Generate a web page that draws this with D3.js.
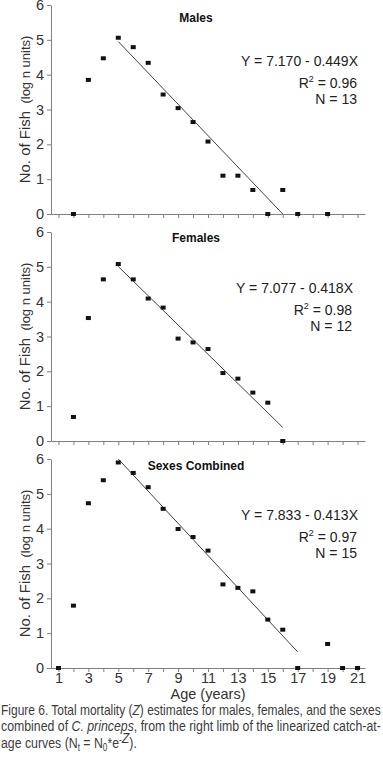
<!DOCTYPE html>
<html>
<head>
<meta charset="utf-8">
<script src="https://cdn.jsdelivr.net/npm/d3@7"></script>
<style>
  body { margin: 0; background: #fff; }
  svg { display: block; font-family: "Liberation Sans", Arial, sans-serif; }
  .axis path, .axis line { stroke: #808080; }
  .axis text { fill: #333; font-size: 14.5px; font-family: "Liberation Sans", Arial, sans-serif; }
  .caption { font-family: "Liberation Sans", Arial, sans-serif; font-size: 15px; fill: #3c3c3c; }
</style>
</head>
<body>
<div id="chart"></div>
<script>
// catch-at-age, ln(n) per age class
var maleAges = [2, 3, 4, 5, 6, 7, 8, 9, 10, 11, 12, 13, 14, 15, 16, 17, 19];
var maleLogN = [0, 3.85, 4.47, 5.06, 4.79, 4.34, 3.43, 3.04, 2.64, 2.08, 1.10, 1.10, 0.69, 0, 0.69, 0, 0];

var femaleAges = [2, 3, 4, 5, 6, 7, 8, 9, 10, 11, 12, 13, 14, 15, 16];
var femaleLogN = [0.69, 3.53, 4.64, 5.08, 4.64, 4.09, 3.83, 2.94, 2.83, 2.64, 1.95, 1.79, 1.39, 1.10, 0];

var combinedAges = [1, 2, 3, 4, 5, 6, 7, 8, 9, 10, 11, 12, 13, 14, 15, 16, 17, 19, 20, 21];
var combinedLogN = [0, 1.79, 4.73, 5.39, 5.90, 5.60, 5.19, 4.57, 3.99, 3.76, 3.37, 2.40, 2.30, 2.20, 1.39, 1.10, 0, 0.69, 0, 0];

// fitted lines as drawn: [age, value] at each end
var maleFit = [[5, 4.95], [16, 0]];
var femaleFit = [[5, 5.01], [16, 0.39]];
var combinedFit = [[5, 6.0], [17, 0.46]];

var titles = ["Males", "Females", "Sexes Combined"];
var equations = ["Y = 7.170 - 0.449X", "Y = 7.077 - 0.418X", "Y = 7.833 - 0.413X"];
var r2 = ["0.96", "0.98", "0.97"];
var nObs = ["13", "12", "15"];

var ageTicks = d3.range(1, 22);
var valueTicks = [0, 1, 2, 3, 4, 5, 6];

var width = 383, height = 775;

var svg = d3.select('#chart').append('svg')
  .attr('width', width)
  .attr('height', height);

var x = d3.scaleLinear().domain([0.5, 21.5]).range([51, 365]);

var panels = [
  {ages: maleAges, vals: maleLogN, fit: maleFit, top: 5, titleY: 21.5, eqX: 358},
  {ages: femaleAges, vals: femaleLogN, fit: femaleFit, top: 232, titleY: 241.5, eqX: 353},
  {ages: combinedAges, vals: combinedLogN, fit: combinedFit, top: 459, titleY: 470, eqX: 358}
];

panels.forEach(function(p, i) {
  var y = d3.scaleLinear().domain([0, 6]).range([p.top + 209, p.top]);
  var last = i === panels.length - 1;
  var g = svg.append('g');

  g.append('g').attr('class', 'axis')
    .attr('transform', 'translate(0,' + y(0) + ')')
    .call(d3.axisBottom(x)
      .tickValues(ageTicks)
      .tickSize(4)
      .tickSizeOuter(0)
      .tickPadding(1)
      .tickFormat(function(d) { return last && d % 2 ? d : ''; }));

  g.append('g').attr('class', 'axis')
    .attr('transform', 'translate(' + x(0.5) + ',0)')
    .call(d3.axisLeft(y)
      .tickValues(valueTicks)
      .tickSize(4)
      .tickSizeOuter(0)
      .tickPadding(3)
      .tickFormat(d3.format('d')));

  // y label
  var lab = g.append('text')
    .attr('transform', 'translate(30,' + (p.top + 104.5) + ') rotate(-90)')
    .attr('text-anchor', 'middle')
    .style('fill', '#333')
    .style('white-space', 'pre');
  lab.append('tspan').style('font-size', '15px').text('No. of Fish');
  lab.append('tspan').style('font-size', '13px').text('  (log n units)');

  // fitted line
  g.append('line')
    .attr('x1', x(p.fit[0][0])).attr('y1', y(p.fit[0][1]))
    .attr('x2', x(p.fit[1][0])).attr('y2', y(p.fit[1][1]))
    .style('stroke', '#444')
    .style('stroke-width', 1);

  // points
  g.selectAll('.pt')
    .data(p.ages)
    .enter().append('rect')
    .attr('class', 'pt')
    .attr('x', function(d) { return x(d) - 2.5; })
    .attr('y', function(d, j) { return y(p.vals[j]) - 2; })
    .attr('width', 5)
    .attr('height', 4)
    .style('fill', '#111');

  g.append('text')
    .attr('x', 196).attr('y', p.titleY)
    .attr('text-anchor', 'middle')
    .style('font-weight', 'bold')
    .style('font-size', '12px')
    .style('fill', '#111')
    .text(titles[i]);

  g.append('text')
    .attr('x', p.eqX).attr('y', p.top + 61)
    .attr('text-anchor', 'end')
    .style('font-size', '14px').style('fill', '#222')
    .text(equations[i]);

  var rt = g.append('text')
    .attr('x', p.eqX - 1).attr('y', p.top + 83)
    .attr('text-anchor', 'end')
    .style('font-size', '14px').style('fill', '#222');
  rt.append('tspan').text('R');
  rt.append('tspan').attr('dy', -6).style('font-size', '9px').text('2');
  rt.append('tspan').attr('dy', 6).text(' = ' + r2[i]);

  g.append('text')
    .attr('x', p.eqX - 1).attr('y', p.top + 98.5)
    .attr('text-anchor', 'end')
    .style('font-size', '14px').style('fill', '#222')
    .text('N = ' + nObs[i]);
});

svg.append('text')
  .attr('x', x(11)).attr('y', 699)
  .attr('text-anchor', 'middle')
  .style('font-size', '14.5px').style('fill', '#333')
  .text('Age (years)');

// caption: condensed look by scaling each line horizontally
var squeeze = 1;
function capLine(yPos, parts, fitWidth) {
  var t = svg.append('text').attr('class', 'caption')
    .attr('x', 0).attr('y', yPos)
    .style('white-space', 'pre');
  parts.forEach(function(pt) {
    var s = t.append('tspan').text(pt.t);
    if (pt.i) s.style('font-style', 'italic');
    if (pt.sub) s.attr('dy', pt.sub).style('font-size', '10px');
    if (pt.back) s.attr('dy', pt.back);
  });
  var natural = t.node().getComputedTextLength();
  if (fitWidth) squeeze = fitWidth / natural;
  t.attr('transform', 'translate(1,0) scale(' + squeeze + ',1)');
}

capLine(715, [
  {t: 'Figure 6. Total mortality ('},
  {t: 'Z', i: true},
  {t: ') estimates for males, females, and the sexes'}
], 380);
capLine(731.5, [
  {t: 'combined of '},
  {t: 'C. princeps', i: true},
  {t: ', from the right limb of the linearized catch-at-'}
], 380);
capLine(748, [
  {t: 'age curves (N'},
  {t: 't', sub: 3},
  {t: ' = N', back: -3},
  {t: '0', sub: 3},
  {t: '*e', back: -3},
  {t: '-', sub: -5},
  {t: 'Z', i: true},
  {t: ').', back: 5}
], 0);
</script>
</body>
</html>
